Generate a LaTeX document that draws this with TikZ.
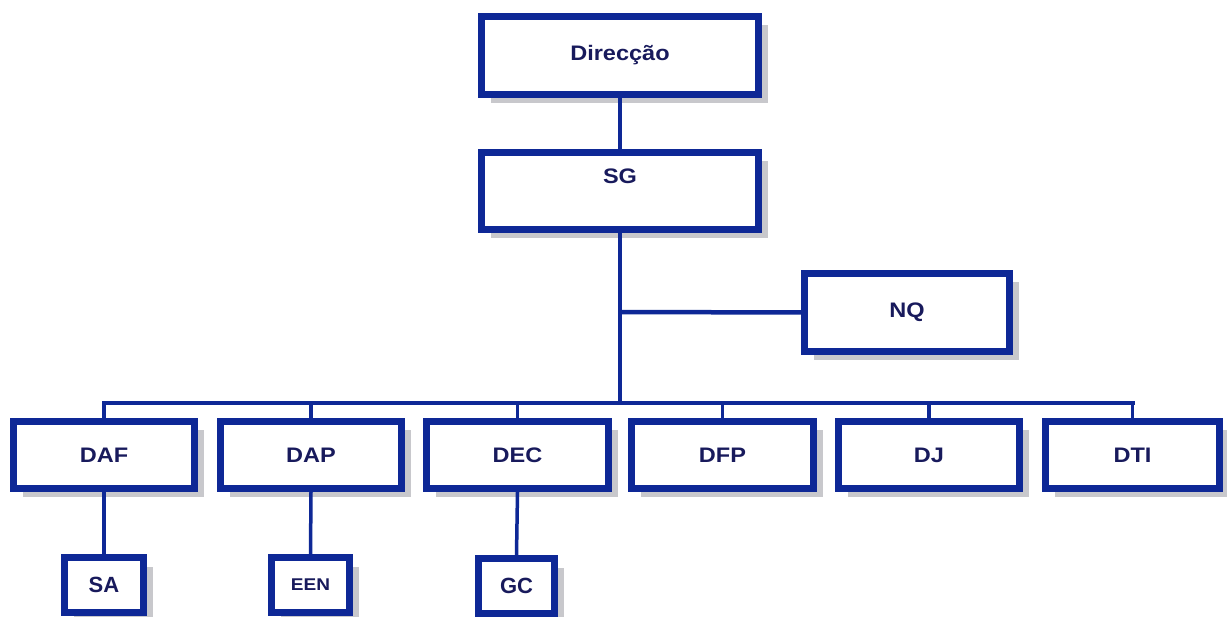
\documentclass[tikz,border=0pt]{standalone}
\usepackage{fontspec}
\setmainfont{Liberation Sans}
\newfontfamily\wideboxfont[FakeStretch=1.12]{Liberation Sans}
\newfontfamily\midboxfont[FakeStretch=1.12]{Liberation Sans}
\usetikzlibrary{shadows}
\definecolor{navy}{RGB}{14,40,150}
\definecolor{txtnavy}{RGB}{24,26,92}
\definecolor{shadowgrey}{RGB}{200,200,204}
\tikzset{
  orgbox/.style={draw=navy, line width=7pt, fill=white, text=txtnavy,
    font=\wideboxfont\bfseries\fontsize{21}{21}\selectfont, inner sep=0pt,
    drop shadow={shadow xshift=9pt, shadow yshift=-9pt, fill=shadowgrey, opacity=1}},
  subbox/.style={orgbox, font=\bfseries\fontsize{22}{22}\selectfont},
  link/.style={draw=navy, line width=4.5pt},
  drop/.style={draw=navy, line width=3.5pt}
}
\begin{document}
\begin{tikzpicture}[x=1pt,y=-1pt]
\useasboundingbox (0,0) rectangle (1227,617);
\fill[white] (0,0) rectangle (1227,617);
\coordinate (nqj) at (620,312);
\coordinate (busj) at (620,403);
% boxes
\node[orgbox, minimum width=277pt, minimum height=78pt] (dir) at (620,55.5) {Direcção};
\node[orgbox, minimum width=277pt, minimum height=77pt, text height=15pt, text depth=29pt] (sg) at (620,191) {SG};
\node[orgbox, minimum width=205pt, minimum height=78pt] (nq) at (907,312.5) {NQ};
\node[orgbox, minimum width=181pt, minimum height=67pt] (daf) at (104,455) {DAF};
\node[orgbox, minimum width=181pt, minimum height=67pt] (dap) at (311,455) {DAP};
\node[orgbox, minimum width=182pt, minimum height=67pt] (dec) at (517.5,455) {DEC};
\node[orgbox, minimum width=182pt, minimum height=67pt] (dfp) at (722.5,455) {DFP};
\node[orgbox, minimum width=181pt, minimum height=67pt] (dj) at (929,455) {DJ};
\node[orgbox, minimum width=174pt, minimum height=67pt] (dti) at (1132.5,455) {DTI};
\node[subbox, minimum width=79pt, minimum height=55pt] (sa) at (104,585) {SA};
\node[subbox, minimum width=78pt, minimum height=55pt, font=\midboxfont\bfseries\fontsize{17}{17}\selectfont] (een) at (310.5,585) {EEN};
\node[subbox, minimum width=76pt, minimum height=55pt] (gc) at (516.5,586) {GC};
% connectors
\draw[link] (dir.south) -- (sg.north);
\draw[link] (sg.south) -- (busj);
\draw[link] (nqj) -- (nq.west);
\draw[link, line cap=rect] (daf.north |- busj) -- (dti.north |- busj);
\foreach \n in {daf,dap,dec,dfp,dj,dti}{
  \draw[drop] (\n.north |- busj) -- (\n.north);
}
\draw[drop] (daf.south) -- (sa.north);
\draw[drop] (dap.south) -- (een.north);
\draw[drop] (dec.south) -- (gc.north);
\end{tikzpicture}
\end{document}
